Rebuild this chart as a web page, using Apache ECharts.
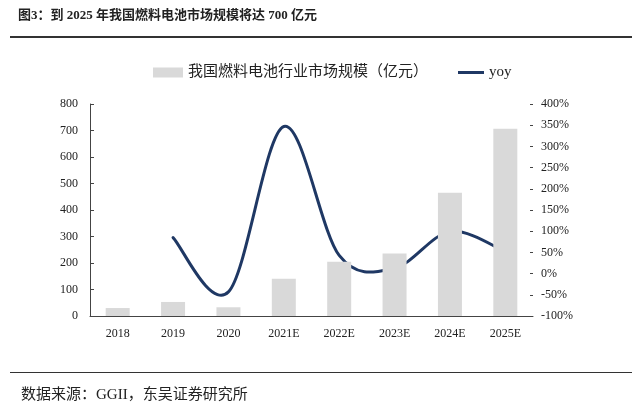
<!DOCTYPE html>
<html><head><meta charset="utf-8">
<script src="https://cdn.jsdelivr.net/npm/echarts@6/dist/echarts.min.js"></script>
<style>html,body{margin:0;padding:0;background:#fff}#c{width:640px;height:408px}</style>
</head><body><div id="c"></div>
<script>
var categories = ['2018','2019','2020','2021E','2022E','2023E','2024E','2025E'];
var marketSize = [30, 53, 33, 141, 205, 236, 465, 707];
var yoy = [null, 85, -43, 347, 43, 13, 99, 52];
var leftTicks = [0, 100, 200, 300, 400, 500, 600, 700, 800];
var rightTicks = [-100, -50, 0, 50, 100, 150, 200, 250, 300, 350, 400];
var barName = '我国燃料电池行业市场规模（亿元）';
var lineName = 'yoy';
var titleText = '图3：到 2025 年我国燃料电池市场规模将达 700 亿元';
var sourceText = '数据来源：GGII，东吴证券研究所';

var yoyPoints = [];
yoy.forEach(function (v, i) { if (v !== null) yoyPoints.push([i, v]); });

var serif = '"Liberation Serif", "Noto Sans CJK SC", serif';
var lineColor = '#1f3864';

// Smooth curve (Catmull-Rom style, like spreadsheet smoothing) through points mapped by the axes
function renderYoy(params, api) {
  if (params.dataIndex !== 0) return null;
  var p = yoyPoints.map(function (d) { return api.coord([d[0], d[1]]); });
  var n = p.length;
  var d = 'M' + p[0][0] + ',' + p[0][1];
  for (var i = 0; i < n - 1; i++) {
    var p0 = p[Math.max(i - 1, 0)], p1 = p[i], p2 = p[i + 1], p3 = p[Math.min(i + 2, n - 1)];
    var c1x = p1[0] + (p2[0] - p0[0]) / 6, c1y = p1[1] + (p2[1] - p0[1]) / 6;
    var c2x = p2[0] - (p3[0] - p1[0]) / 6, c2y = p2[1] - (p3[1] - p1[1]) / 6;
    d += ' C' + c1x + ',' + c1y + ' ' + c2x + ',' + c2y + ' ' + p2[0] + ',' + p2[1];
  }
  return {
    type: 'path',
    shape: {pathData: d},
    style: {stroke: lineColor, lineWidth: 3, fill: 'none', lineCap: 'round'}
  };
}

var chart = echarts.init(document.getElementById('c'));
chart.setOption({
  animation: false,
  backgroundColor: '#fff',
  textStyle: {fontFamily: serif},
  grid: {left: 90, right: 107, top: 104, bottom: 92},
  legend: [{
    left: 153, top: 65, padding: 0, itemHeight: 10, itemWidth: 30, itemGap: 4,
    textStyle: {fontFamily: serif, fontSize: 15, color: '#222'},
    data: [{name: barName, icon: 'rect'}]
  }, {
    left: 458, top: 65, padding: 0, itemHeight: 3, itemWidth: 26, itemGap: 4,
    textStyle: {fontFamily: serif, fontSize: 15, color: '#222'},
    data: [{name: lineName, icon: 'rect', itemStyle: {color: lineColor}}]
  }],
  xAxis: {
    type: 'category', data: categories,
    axisLine: {lineStyle: {color: '#444', width: 1}},
    axisTick: {inside: true, length: 4, lineStyle: {color: '#444'}},
    axisLabel: {color: '#222', fontSize: 12, fontFamily: serif, margin: 12}
  },
  yAxis: [{
    type: 'value', min: leftTicks[0], max: leftTicks[leftTicks.length-1], interval: 100,
    axisLine: {show: true, lineStyle: {color: '#444'}},
    axisTick: {show: true, inside: true, length: 4, lineStyle: {color: '#444'}},
    splitLine: {show: false},
    axisLabel: {color: '#222', fontSize: 12, fontFamily: serif, margin: 12}
  }, {
    type: 'value', min: rightTicks[0], max: rightTicks[rightTicks.length-1], interval: 50,
    position: 'right',
    axisLine: {show: false},
    axisTick: {show: true, inside: true, length: 3, lineStyle: {color: '#444'}},
    splitLine: {show: false},
    axisLabel: {color: '#222', fontSize: 12, fontFamily: serif, margin: 8, formatter: '{value}%'}
  }],
  series: [{
    name: barName, type: 'bar', data: marketSize, barWidth: 24,
    itemStyle: {color: '#d9d9d9'}
  }, {
    name: lineName, type: 'custom', yAxisIndex: 1, data: yoyPoints,
    encode: {x: 0, y: 1},
    renderItem: renderYoy,
    itemStyle: {color: lineColor},
    silent: true
  }],
  graphic: [
    {type: 'text', left: 18, top: 9, style: {text: titleText, font: 'bold 13px ' + serif, fill: '#222'}},
    {type: 'rect', shape: {x: 10, y: 36, width: 622, height: 2}, style: {fill: '#333'}},
    {type: 'rect', shape: {x: 10, y: 372, width: 622, height: 1}, style: {fill: '#333'}},
    {type: 'text', left: 21, top: 388, style: {text: sourceText, font: '15px ' + serif, fill: '#222'}}
  ]
});
</script></body></html>
